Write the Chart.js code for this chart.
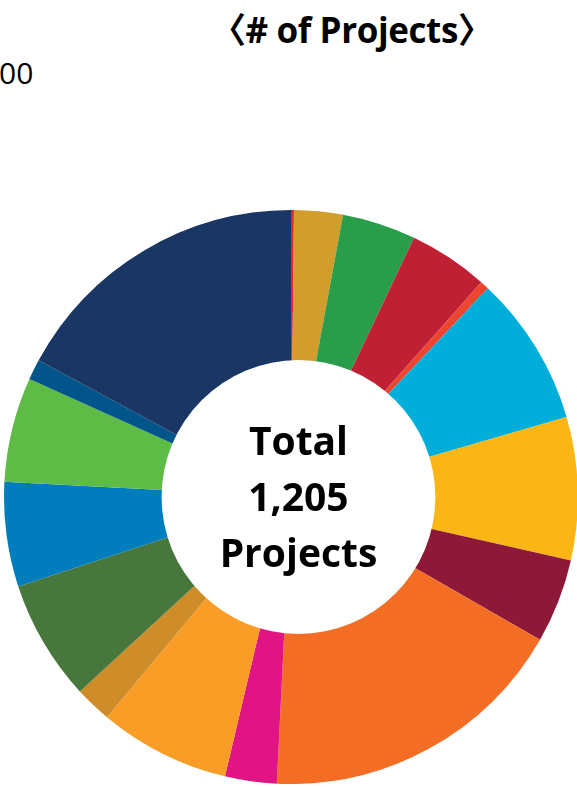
<!DOCTYPE html>
<html>
<head>
<meta charset="utf-8">
<script src="https://cdn.jsdelivr.net/npm/chart.js@4/dist/chart.umd.min.js"></script>
<style>
    html, body { margin: 0; padding: 0; background: #fff; overflow: hidden; }
    body { width: 577px; height: 787px; position: relative; }
    .title {
        position: absolute; left: 211px; top: 2px; width: 280px;
        font: bold 35px "Open Sans", "Noto Sans CJK JP", sans-serif;
        color: #000; white-space: nowrap; letter-spacing: -0.4px;
    }
    .cut {
        position: absolute; left: -1px; top: 52px;
        font: 30px "Open Sans", sans-serif; color: #000;
    }
    .wrap { position: absolute; left: 4px; top: 210px; width: 574px; height: 574px; }
</style>
</head>
<body>
<div class="title">〈# of Projects〉</div>
<div class="cut">00</div>
<div class="wrap"><canvas id="projectChart"></canvas></div>
<script>
// SDG goals, clockwise from 12 o'clock
const goalLabels = ['Goal 1', 'Goal 2', 'Goal 3', 'Goal 4', 'Goal 5', 'Goal 6', 'Goal 7', 'Goal 8', 'Goal 9',
    'Goal 10', 'Goal 11', 'Goal 12', 'Goal 13', 'Goal 14', 'Goal 15', 'Goal 16', 'Goal 17'];
const projectCounts = [2, 33, 50, 54, 6, 102, 97, 57, 211, 35, 89, 25, 82, 71, 71, 14, 206];
const goalColors = ['#E5243B', '#D19E2B', '#2A9D4A', '#C02034', '#EE4530', '#00AED9', '#FAB615', '#8E1838',
    '#F36D25', '#E11484', '#F99D26', '#CF8D2A', '#48773E', '#007DBC', '#5DBB46', '#02558B', '#1A3665'];
const centerLines = ['Total', '1,205', 'Projects'];

// White disc (sits a little right of the ring centre, as in the original) + total text
const centerText = {
    id: 'centerText',
    afterDatasetsDraw(chart) {
        const arc = chart.getDatasetMeta(0).data[0];
        if (!arc) return;
        const ctx = chart.ctx;
        const r = arc.outerRadius;
        const cx = arc.x + r * 0.026;
        ctx.save();
        ctx.beginPath();
        ctx.arc(cx, arc.y, r * 0.477, 0, Math.PI * 2);
        ctx.fillStyle = '#fff';
        ctx.fill();

        ctx.font = 'bold 39px "Open Sans", sans-serif';
        ctx.fillStyle = '#000';
        ctx.textAlign = 'center';
        ctx.textBaseline = 'middle';
        const step = 56;
        centerLines.forEach((line, i) => {
            ctx.fillText(line, cx, arc.y + (i - 1) * step + 3);
        });
        ctx.restore();
    }
};

new Chart(document.getElementById('projectChart'), {
    type: 'doughnut',
    data: {
        labels: goalLabels,
        datasets: [{
            data: projectCounts,
            backgroundColor: goalColors,
            borderWidth: 0
        }]
    },
    options: {
        responsive: true,
        maintainAspectRatio: false,
        animation: false,
        cutout: '40%',
        layout: { padding: 0 },
        plugins: {
            legend: { display: false },
            tooltip: { enabled: false }
        }
    },
    plugins: [centerText]
});
</script>
</body>
</html>
